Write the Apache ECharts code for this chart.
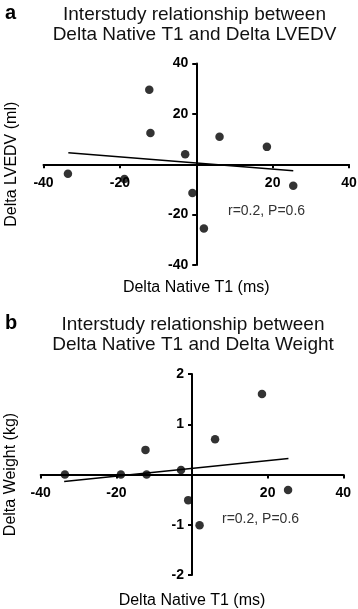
<!DOCTYPE html>
<html>
<head>
<meta charset="utf-8">
<script src="https://cdn.jsdelivr.net/npm/echarts@6/dist/echarts.min.js"></script>
<style>
  html, body { margin: 0; padding: 0; background: #fff; }
  #chart { width: 358px; height: 609px; }
</style>
</head>
<body>
<div id="chart"></div>
<script>
// Delta native T1 (ms) for each subject, shared by both panels
const deltaT1 = [-33.6, -18.8, -12.3, -12.0, -2.9, -1.0, 2.0, 6.1, 18.5, 25.4];
// panel a: delta LVEDV (ml)
const deltaLVEDV = [-3.8, -5.9, 29.6, 12.4, 4.0, -11.4, -25.5, 10.9, 6.9, -8.5];
// panel b: delta weight (kg)
const deltaWeight = [0.0, 0.0, 0.49, 0.0, 0.09, -0.51, -1.01, 0.7, 1.6, -0.31];

// fitted lines, [x, y] end points
const fitA = [[-33.5, 4.6], [25.4, -2.6]];
const fitB = [[-33.8, -0.14], [25.5, 0.32]];

const statsText = 'r=0.2, P=0.6';

const font = 'Arial, "Liberation Sans", sans-serif';

// grid boxes; axes cross at zero in the middle, so they are shifted in with offset
const gridA = { left: 43.5, width: 305.5, top: 63.5, height: 201.5 };
const gridB = { left: 40.7, width: 302.6, top: 374, height: 201 };

const chart = echarts.init(document.getElementById('chart'));

function xAxisFor(gridIndex, grid, gap) {
  return {
    gridIndex,
    type: 'value',
    position: 'bottom',
    offset: -grid.height / 2,
    min: -40,
    max: 40,
    interval: 20,
    name: 'Delta Native T1 (ms)',
    nameLocation: 'middle',
    nameGap: gap,
    nameTextStyle: { color: '#000', fontSize: 16, fontFamily: font },
    axisLine: { onZero: false, lineStyle: { color: '#000', width: 2 } },
    axisTick: { length: 4, lineStyle: { color: '#000', width: 2 } },
    axisLabel: {
      color: '#000',
      fontSize: 14,
      fontWeight: 'bold',
      fontFamily: font,
      margin: 12,
      formatter: (v) => (v === 0 ? '' : v),
    },
    splitLine: { show: false },
  };
}

function yAxisFor(gridIndex, grid, min, max, interval, name, gap) {
  return {
    gridIndex,
    type: 'value',
    position: 'left',
    offset: -grid.width / 2,
    min,
    max,
    interval,
    name,
    nameLocation: 'middle',
    nameGap: gap,
    nameTextStyle: { color: '#000', fontSize: 16, fontFamily: font },
    axisLine: { onZero: false, lineStyle: { color: '#000', width: 2 } },
    axisTick: { length: 4, lineStyle: { color: '#000', width: 2 } },
    axisLabel: {
      color: '#000',
      fontSize: 14,
      fontWeight: 'bold',
      fontFamily: font,
      margin: 8,
      formatter: (v) => (v === 0 ? '' : v),
    },
    splitLine: { show: false },
  };
}

const panelLetter = { fontSize: 20, fontWeight: 'bold', color: '#000', fontFamily: font };
const heading = { fontSize: 19, fontWeight: 'normal', color: '#111', fontFamily: font, lineHeight: 20 };
const stats = { fontSize: 14, fontWeight: 'normal', color: '#333', fontFamily: font };

const option = {
  backgroundColor: '#fff',
  animation: false,
  title: [
    { text: 'a', left: 5, top: 3, padding: 0, textStyle: panelLetter },
    {
      text: 'Interstudy relationship between\nDelta Native T1 and Delta LVEDV',
      left: 194.5,
      top: 4.5,
      padding: 0,
      textAlign: 'center',
      textStyle: heading,
    },
    { text: 'b', left: 5, top: 313, padding: 0, textStyle: panelLetter },
    {
      text: 'Interstudy relationship between\nDelta Native T1 and Delta Weight',
      left: 193,
      top: 314.5,
      padding: 0,
      textAlign: 'center',
      textStyle: heading,
    },
    { text: statsText, left: 228, top: 204, padding: 0, textStyle: stats },
    { text: statsText, left: 222, top: 512, padding: 0, textStyle: stats },
  ],
  grid: [
    Object.assign({ outerBoundsMode: 'none', containLabel: false }, gridA),
    Object.assign({ outerBoundsMode: 'none', containLabel: false }, gridB),
  ],
  xAxis: [xAxisFor(0, gridA, 115), xAxisFor(1, gridB, 118)],
  yAxis: [
    yAxisFor(0, gridA, -40, 40, 20, 'Delta LVEDV (ml)', 177),
    yAxisFor(1, gridB, -2, 2, 1, 'Delta Weight (kg)', 173),
  ],
  series: [
    {
      type: 'scatter',
      xAxisIndex: 0,
      yAxisIndex: 0,
      symbolSize: 8.5,
      itemStyle: { color: '#000' },
      data: deltaT1.map((x, i) => [x, deltaLVEDV[i]]),
    },
    {
      type: 'line',
      xAxisIndex: 0,
      yAxisIndex: 0,
      symbol: 'none',
      lineStyle: { color: '#000', width: 1.5 },
      data: fitA,
    },
    {
      type: 'scatter',
      xAxisIndex: 1,
      yAxisIndex: 1,
      symbolSize: 8.5,
      itemStyle: { color: '#000' },
      data: deltaT1.map((x, i) => [x, deltaWeight[i]]),
    },
    {
      type: 'line',
      xAxisIndex: 1,
      yAxisIndex: 1,
      symbol: 'none',
      lineStyle: { color: '#000', width: 1.5 },
      data: fitB,
    },
  ],
};

chart.setOption(option);
</script>
</body>
</html>
